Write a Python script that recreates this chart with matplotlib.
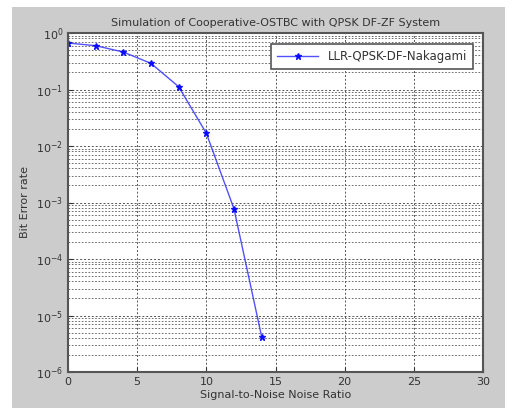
import matplotlib
matplotlib.use("Agg")
import matplotlib.pyplot as plt
from matplotlib.patches import Rectangle
from matplotlib.ticker import LogLocator, FixedLocator

snr = [0, 2, 4, 6, 8, 10, 12, 14]
ber = [0.665, 0.596, 0.46, 0.29, 0.112, 0.0168, 7.7e-4, 4.2e-6]
xticks = [0, 5, 10, 15, 20, 25, 30]

fig = plt.figure(figsize=(5.13, 4.08), dpi=100)
fig.patch.set_facecolor('white')
# gray matlab-like frame
fig.patches.append(Rectangle((12/513, 0), (505-12)/513, 1 - 7/408,
                             transform=fig.transFigure, facecolor='#cccccc',
                             edgecolor='none', zorder=-10))

ax = fig.add_axes([68/513, 1 - 372/408, (483-68)/513, (372-33)/408])
ax.set_facecolor('white')
ax.semilogy(snr, ber, '-', color='#3333ff', lw=1.0, marker='*', ms=5,
            markerfacecolor='#0000ff', markeredgecolor='#0000ff',
            label='LLR-QPSK-DF-Nakagami', alpha=0.85)

ax.set_xlim(0, 30)
ax.set_ylim(1e-6, 1)
ax.xaxis.set_major_locator(FixedLocator(xticks))
ax.yaxis.set_major_locator(LogLocator(base=10, numticks=10))
ax.yaxis.set_minor_locator(LogLocator(base=10, subs=range(2, 10), numticks=10))
ax.grid(True, which='major', color='#555555', linestyle=(0, (2, 2)), lw=0.7)
ax.grid(True, which='minor', axis='y', color='#555555', linestyle=(0, (2, 2)), lw=0.6)
ax.tick_params(which='both', direction='in', labelsize=8, colors='#333333')
ax.tick_params(which='minor', length=0)
for s in ax.spines.values():
    s.set_color('#555555')
    s.set_linewidth(1.5)

ax.set_title('Simulation of Cooperative-OSTBC with QPSK DF-ZF System',
             fontsize=8, color='#333333', pad=5)
ax.set_xlabel('Signal-to-Noise Noise Ratio', fontsize=8, color='#333333', labelpad=2)
ax.set_ylabel('Bit Error rate', fontsize=8, color='#333333', labelpad=4)

leg = ax.legend(loc='upper right', fontsize=8.5, fancybox=False, framealpha=1,
                edgecolor='#555555', handlelength=3.5, borderpad=0.5,
                bbox_to_anchor=(0.99, 0.985))
leg.get_frame().set_linewidth(1.2)
for t in leg.get_texts():
    t.set_color('#333333')

fig.savefig('out.png', dpi=100, facecolor=fig.get_facecolor())
